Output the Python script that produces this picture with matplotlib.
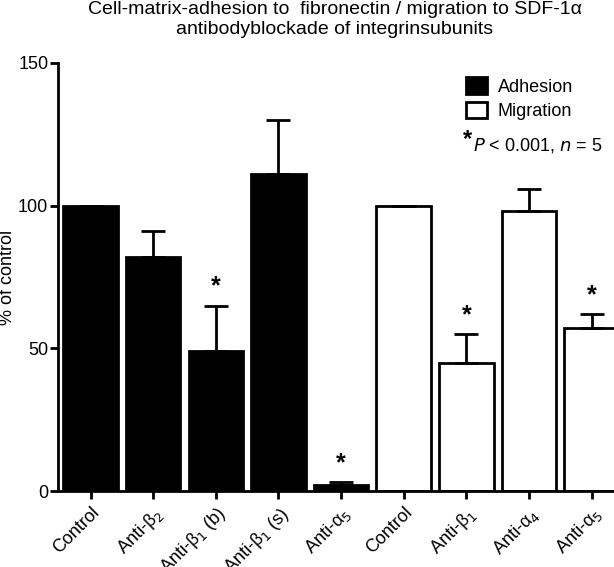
import matplotlib.pyplot as plt

plt.rcParams['font.family'] = ['Liberation Sans', 'DejaVu Sans']

# data
labels = ['Control', 'Anti-β$_2$', 'Anti-β$_1$ (b)', 'Anti-β$_1$ (s)', 'Anti-α$_5$',
          'Control', 'Anti-β$_1$', 'Anti-α$_4$', 'Anti-α$_5$']
adhesion = [100, 82, 49, 111, 2]
adhesion_err = [0, 9, 16, 19, 1]
migration = [100, 45, 98, 57]
migration_err = [0, 10, 8, 5]
significant = [False, False, True, False, True, False, True, False, True]

values = adhesion + migration
errors = adhesion_err + migration_err
x = list(range(len(values)))
n_adh = len(adhesion)

fig = plt.figure(figsize=(6.14, 5.67), dpi=100)
ax = fig.add_axes([0.0945, 0.134, 0.92, 0.755])

# bars
ax.bar(x[:n_adh], adhesion, width=0.87, color='black', edgecolor='black',
       linewidth=2, label='Adhesion', zorder=2)
ax.bar(x[n_adh:], migration, width=0.87, color='white', edgecolor='black',
       linewidth=2, label='Migration', zorder=2)

# upper error bars only
ax.errorbar(x, values, yerr=[[0] * len(errors), errors], fmt='none',
            ecolor='black', elinewidth=2, capsize=8.5, capthick=2, zorder=3)

# significance stars
for xi, v, e, s in zip(x, values, errors, significant):
    if s:
        ax.text(xi, v + e + 2.5, '*', ha='center', va='bottom', fontsize=18,
                fontweight='bold')

ax.set_xlim(-0.52, 8.5)
ax.set_ylim(0, 150)
ax.set_yticks([0, 50, 100, 150])
ax.set_xticks(x)
ax.set_xticklabels(labels, rotation=45, ha='right', rotation_mode='anchor',
                   fontsize=13)
ax.tick_params(axis='both', direction='out', width=2, length=6, labelsize=13)
ax.tick_params(axis='y', pad=1)

for side in ['top', 'right']:
    ax.spines[side].set_visible(False)
for side in ['left', 'bottom']:
    ax.spines[side].set_linewidth(2)

# y label placed close to the left edge like the original
fig.text(0.012, 0.511, '% of control', rotation=90, ha='center', va='center',
         fontsize=13)

ax.legend(loc='upper left', bbox_to_anchor=(0.71, 0.983), frameon=False,
          fontsize=13, handlelength=1.15, handleheight=1.0, handletextpad=0.6,
          labelspacing=0.35, borderaxespad=0)
ax.text(0.716, 0.822, '*', transform=ax.transAxes, fontsize=17,
        fontweight='bold', va='center')
ax.text(0.735, 0.807, '$\\it{P}$ < 0.001, $\\it{n}$ = 5', transform=ax.transAxes,
        fontsize=13, va='center')

fig.suptitle('Cell-matrix-adhesion to  fibronectin / migration to SDF-1α\n'
             'antibodyblockade of integrinsubunits',
             x=0.545, y=0.998, va='top', fontsize=14, linespacing=1.2)

plt.savefig('out.png', dpi=100)
